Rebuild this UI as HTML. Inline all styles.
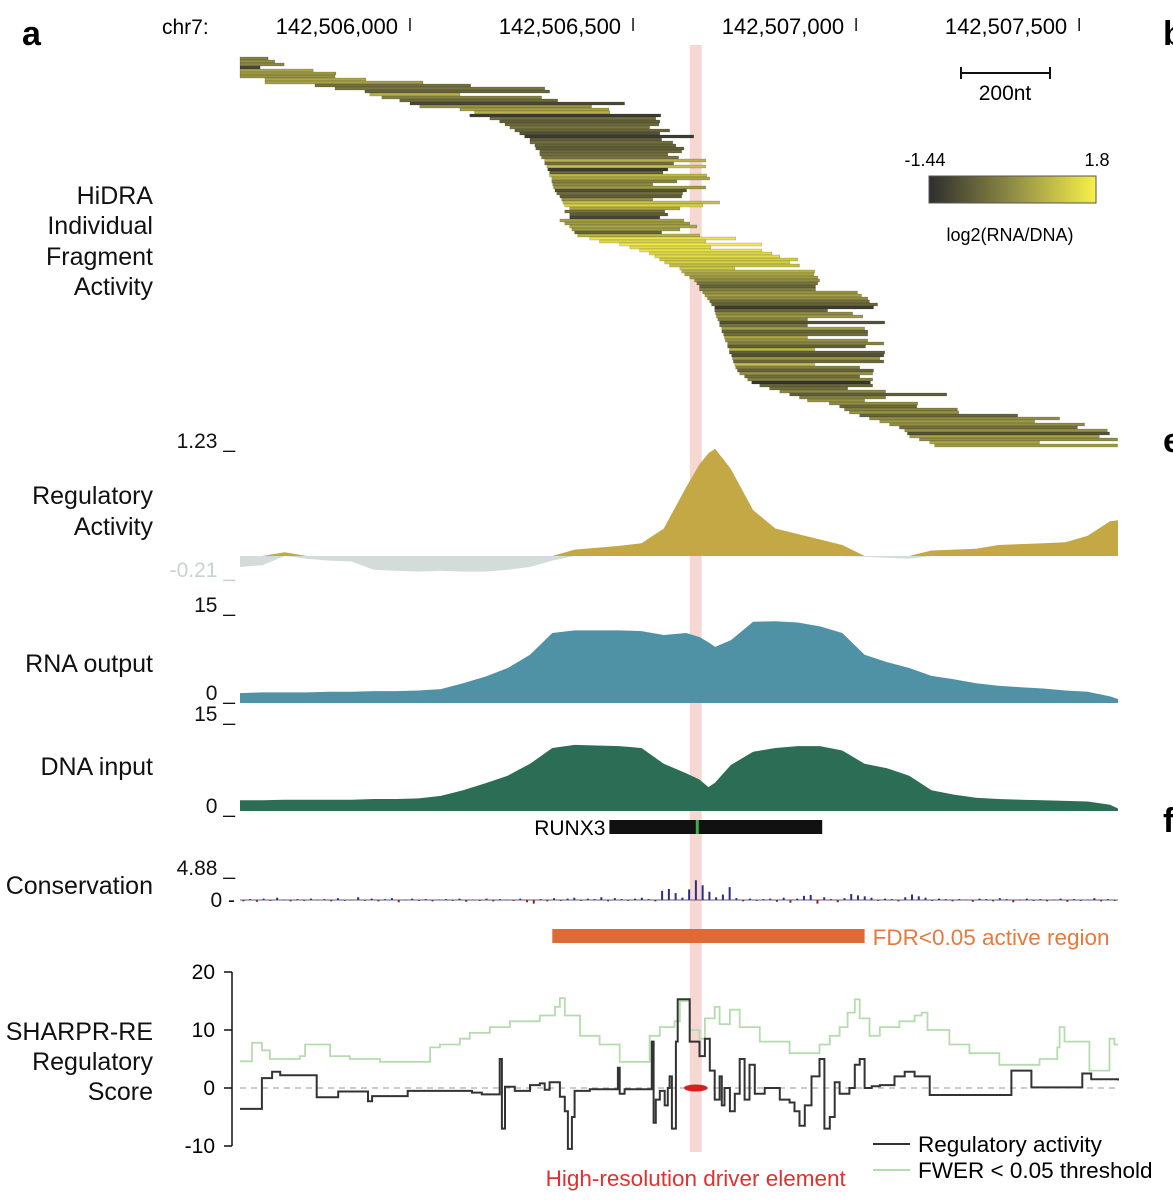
<!DOCTYPE html>
<html><head><meta charset="utf-8"><style>
html,body{margin:0;padding:0;background:#fff;}
svg{display:block;font-family:"Liberation Sans",sans-serif;}
</style></head><body>
<svg id="fig" width="1173" height="1200" viewBox="0 0 1173 1200" xmlns="http://www.w3.org/2000/svg">
<g id="static">
<text x="22" y="45" font-size="34" font-weight="bold">a</text>
<text x="1163" y="45" font-size="34" font-weight="bold">b</text>
<text x="1163" y="452" font-size="34" font-weight="bold">e</text>
<text x="1163" y="832" font-size="34" font-weight="bold">f</text>
<text x="162" y="34" font-size="21">chr7:</text>
<g font-size="25" text-anchor="end" fill="#111">
<text x="153" y="204">HiDRA</text>
<text x="153" y="234">Individual</text>
<text x="153" y="265">Fragment</text>
<text x="153" y="295">Activity</text>
<text x="153" y="504">Regulatory</text>
<text x="153" y="535">Activity</text>
<text x="153" y="672">RNA output</text>
<text x="153" y="775">DNA input</text>
<text x="153" y="894">Conservation</text>
<text x="153" y="1040">SHARPR-RE</text>
<text x="153" y="1070">Regulatory</text>
<text x="153" y="1100">Score</text>
</g>
<g font-size="21" fill="#111" text-anchor="end">
<text x="235" y="448">1.23 _</text>
<text x="235" y="577" fill="#c8d2ce">-0.21 _</text>
<text x="235" y="612">15 _</text>
<text x="235" y="700">0 _</text>
<text x="235" y="721">15 _</text>
<text x="235" y="813">0 _</text>
<text x="235" y="875">4.88 _</text>
<text x="235" y="907">0 -</text>
</g>
<g stroke="#111" stroke-width="2">
<line x1="961" y1="73" x2="1050" y2="73"/><line x1="961" y1="67" x2="961" y2="79"/><line x1="1050" y1="67" x2="1050" y2="79"/>
</g>
<text x="1005" y="100" font-size="21" text-anchor="middle">200nt</text>
<defs><linearGradient id="cg" x1="0" x2="1"><stop offset="0" stop-color="#2e2e2e"/><stop offset="0.5" stop-color="#8f8c45"/><stop offset="1" stop-color="#f7f04a"/></linearGradient></defs>
<rect x="929" y="176" width="167" height="27" fill="url(#cg)" stroke="#555"/>
<text x="925" y="166" font-size="18" text-anchor="middle">-1.44</text>
<text x="1097" y="166" font-size="18" text-anchor="middle">1.8</text>
<text x="1010" y="241" font-size="18" text-anchor="middle">log2(RNA/DNA)</text>
</g>
<g id="dyn"></g>
</svg>
<script>
const regionStart = 142505619;
const regionLen = 1968;
const tickPositions = [142506000, 142506500, 142507000, 142507500];
const tickLabels = ["142,506,000", "142,506,500", "142,507,000", "142,507,500"];
const fragStart = [0,0,0,0,0,0,0,56,56,168,213,280,291,318,358,381,403,493,526,515,560,582,594,605,616,627,638,650,650,661,663,672,672,676,683,683,688,690,694,694,699,699,701,703,706,710,717,721,724,728,739,728,739,739,717,728,739,744,750,757,784,806,851,874,896,918,930,941,952,963,986,990,997,1008,1019,1024,1030,1030,1037,1042,1048,1053,1057,1064,1064,1066,1068,1071,1075,1075,1080,1080,1084,1086,1088,1093,1093,1097,1097,1102,1104,1106,1109,1111,1115,1120,1131,1138,1147,1165,1187,1210,1232,1254,1272,1321,1344,1355,1366,1389,1411,1434,1456,1478,1490,1496,1501,1523,1546,1557];
const fragEnd = [63,78,99,45,164,215,213,282,410,517,683,694,493,676,712,862,788,827,829,943,932,941,939,918,963,941,1017,945,970,977,995,990,959,983,1044,972,1044,959,948,1046,1053,979,925,1044,1001,992,990,925,1075,1037,986,952,959,941,995,1008,1024,986,945,1030,1111,1044,1169,1055,1169,1192,1210,1250,1232,1254,1109,1288,1286,1295,1299,1295,1290,1290,1384,1393,1407,1411,1429,1420,1317,1373,1396,1272,1445,1272,1400,1407,1407,1272,1407,1443,1402,1288,1445,1443,1434,1443,1288,1389,1420,1418,1389,1418,1413,1418,1362,1447,1584,1447,1400,1519,1517,1608,1611,1743,1837,1781,1893,1877,1944,1949,1926,1967,1792,1967];
const fragActivity = [0.0,0.2,0.1,-1.0,0.6,0.4,0.3,0.6,0.5,-0.3,-0.2,-0.5,0.8,0.0,-0.4,-1.0,0.3,0.5,0.8,-1.2,-0.3,-0.6,-0.4,-0.2,-0.5,-0.8,-1.2,-0.6,-0.3,-0.5,-0.6,-0.4,-0.3,-0.2,0.8,-0.3,1.0,-1.2,-0.5,0.9,0.6,0.0,0.2,0.4,-0.8,-0.3,-0.6,0.3,1.0,1.3,0.6,-0.3,-0.6,-1.0,0.5,0.4,0.6,0.4,-0.5,0.8,1.6,1.4,1.7,1.5,1.6,1.4,1.5,1.2,1.3,1.0,1.2,0.8,0.6,0.4,0.2,-0.2,-0.5,0.0,0.3,0.5,0.2,-0.3,-0.5,-1.2,-0.4,0.2,0.4,0.0,-0.8,-0.2,0.5,-0.5,-0.3,0.6,0.3,0.0,-0.6,0.8,-0.6,-0.8,0.4,-0.4,1.0,0.0,-0.5,0.3,-0.3,0.0,-1.3,-0.5,-0.3,0.1,-0.6,0.0,0.3,0.2,-0.4,0.0,0.3,-0.5,0.2,0.4,0.2,-0.3,0.3,-0.8,0.5,0.2,0.6,0.4];
const trackPos = [0,50,100,150,200,250,300,350,400,450,500,550,600,650,700,750,800,850,900,950,1000,1030,1050,1065,1100,1150,1200,1250,1300,1350,1400,1450,1500,1550,1600,1650,1700,1750,1800,1850,1900,1950,1968];
const regActivity = [-0.12,-0.1,0.04,-0.03,-0.05,-0.06,-0.15,-0.16,-0.17,-0.16,-0.17,-0.17,-0.15,-0.12,-0.05,0.07,0.09,0.11,0.14,0.3,0.75,1.0,1.12,1.17,0.95,0.5,0.3,0.24,0.18,0.12,-0.01,-0.02,-0.03,0.06,0.07,0.08,0.12,0.13,0.14,0.15,0.22,0.38,0.39];
const rnaOutput = [1.5,1.6,1.6,1.6,1.7,1.7,1.8,1.8,1.9,2.1,3.0,4.0,5.3,7.3,10.6,11.0,11.0,11.0,10.9,10.3,10.6,10.0,9.2,8.5,9.5,12.3,12.4,12.2,11.6,10.6,7.3,6.2,5.3,4.1,3.6,3.0,2.6,2.4,2.2,1.9,1.7,1.0,0.6];
const dnaInput = [1.7,1.7,1.8,1.8,1.8,1.8,1.9,1.9,2.0,2.4,3.3,4.4,5.6,7.5,10.0,10.5,10.4,10.3,10.0,7.5,6.0,5.0,3.8,4.5,7.3,9.4,10.0,10.3,10.3,9.6,7.5,6.8,5.6,3.3,2.6,2.1,1.9,1.8,1.7,1.6,1.5,1.0,0.4];
const consValues = [-0.3,0.2,-0.4,0.3,-0.2,0.5,0.1,-0.3,0.2,-0.2,0.3,-0.1,0.2,-0.3,0.4,-0.2,0.1,0.6,-0.2,0.3,-0.3,0.2,0.4,-0.5,0.1,0.3,-0.2,0.2,-0.3,0.1,0.2,-0.2,0.3,-0.4,0.1,-0.2,0.3,-0.3,0.2,0.1,-0.2,0.3,-0.5,-0.8,0.2,-0.3,0.4,-0.2,0.3,0.5,-0.2,0.3,0.2,0.6,-0.3,0.4,0.2,-0.2,0.3,0.5,0.2,-0.3,2.0,2.4,1.5,0.5,2.3,4.3,3.2,1.8,0.6,1.2,2.8,0.4,-0.3,0.3,-0.2,0.2,0.3,-0.4,0.5,-0.6,0.3,0.9,1.1,-0.8,0.6,0.2,-0.5,0.4,1.3,1.0,0.8,0.5,-0.2,0.3,0.2,-0.3,0.6,1.2,0.8,0.5,-0.2,0.3,0.2,-0.3,0.2,0.1,-0.4,0.3,0.2,-0.3,0.4,0.2,-0.5,0.1,0.3,-0.2,0.2,-0.3,0.1,0.3,-0.4,0.2,-0.2,0.1,0.4,-0.3,0.2,-0.2];
const geneStart = 828, geneEnd = 1305, geneMark = 1025;
const fdrStart = 700, fdrEnd = 1400;
const driverStart = 995, driverEnd = 1048;
const sharprTicks = [20, 10, 0, -10];
const actPos = [0,49,72,90,172,220,287,296,376,520,542,582,587,594,616,650,672,683,694,717,728,735,744,750,784,829,847,851,862,918,923,927,932,941,952,959,963,968,977,981,1004,1008,1030,1042,1053,1064,1075,1080,1086,1098,1109,1120,1131,1142,1154,1176,1210,1232,1243,1254,1266,1281,1299,1310,1322,1333,1344,1366,1378,1389,1400,1416,1434,1467,1490,1512,1546,1729,1774,1888,1908,1968];
const actVal = [-3.6,1.7,2.8,2.2,-1.6,-0.6,-2.3,-1.4,-0.5,-0.8,-1.1,5.0,-7.0,0.2,-0.5,0.5,0.8,-0.3,1.0,-1.5,-4.0,-10.5,-5.0,-0.5,-0.2,-0.2,3.5,-1.0,-0.2,-0.2,8.0,-6.0,-2.0,-0.5,-3.0,0.0,2.0,-7.0,8.0,15.3,15.3,8.0,5.5,8.5,3.0,-2.0,2.0,-3.0,0.0,-4.0,-1.0,5.0,-2.0,4.0,-1.0,0.0,-2.0,-2.5,-4.0,-6.5,-3.0,2.0,5.0,-7.0,-5.0,1.0,-1.0,0.0,4.0,5.0,0.0,0.3,0.5,2.0,2.8,2.0,-1.2,3.0,0.1,2.5,1.5,1.3];
const thrPos = [0,27,49,67,112,134,146,202,246,314,426,448,493,515,560,605,672,706,717,728,762,806,851,907,918,941,974,986,1008,1030,1042,1064,1075,1098,1120,1165,1232,1277,1299,1322,1344,1362,1378,1389,1411,1434,1478,1512,1528,1541,1590,1635,1702,1792,1832,1837,1848,1904,1944,1949,1960,1968];
const thrVal = [4.6,7.8,6.5,5.0,5.0,5.5,7.5,5.5,5.0,4.5,7.0,7.5,8.5,9.5,10.5,11.5,12.5,14.0,15.5,12.5,9.0,7.5,4.5,4.5,9.0,10.5,11.5,15.0,10.0,8.5,12.0,14.0,11.0,13.5,10.5,8.0,6.0,6.0,7.5,9.0,10.5,13.0,15.3,12.0,9.0,10.5,11.5,12.5,13.0,10.0,7.5,6.0,4.0,5.0,7.0,10.5,8.0,3.0,3.0,8.5,7.5,7.5];

const NS = "http://www.w3.org/2000/svg";
const root = document.getElementById('dyn');
const X0 = 240, X1 = 1118;
const gx = nt => X0 + nt * (X1 - X0) / regionLen;
const gAbs = p => gx(p - regionStart);
function mk(tag, attrs, parent) { const e = document.createElementNS(NS, tag); for (const k in attrs) e.setAttribute(k, attrs[k]); (parent || root).appendChild(e); return e; }
function lerp(a, b, t) { return a + (b - a) * t; }
function hex(c) { return [parseInt(c.slice(1,3),16), parseInt(c.slice(3,5),16), parseInt(c.slice(5,7),16)]; }
const cLo = hex('#2e2e2e'), cMid = hex('#8f8c45'), cHi = hex('#f7f04a');
function colorFor(v) {
  const t = Math.max(0, Math.min(1, (v + 1.44) / 3.24));
  let a, b, u; if (t < 0.5) { a = cLo; b = cMid; u = t / 0.5; } else { a = cMid; b = cHi; u = (t - 0.5) / 0.5; }
  return 'rgb(' + [0,1,2].map(i => Math.round(lerp(a[i], b[i], u))).join(',') + ')';
}

const band = mk('rect', {x: (gx(driverStart) + gx(driverEnd)) / 2 - 6, y: 45, width: 12, height: 1107, fill: '#f4c9c3', opacity: 0.75});



tickPositions.forEach((p, i) => {
  const x = gAbs(p);
  const t = mk('text', {x: x - 12, y: 34, 'font-size': 22, 'text-anchor': 'end'}); t.textContent = tickLabels[i];
  
  
  const l = mk('line', {x1: x, x2: x, y1: 18, y2: 31, stroke: '#111', 'stroke-width': 1.5});
  
  
});

const fTop = 57, fBot = 447, rowH = (fBot - fTop) / fragStart.length;
const fg = mk('g', {});


fragStart.forEach((s, i) => {
  const r = mk('rect', {x: gx(s), y: fTop + i * rowH, width: gx(fragEnd[i]) - gx(s), height: rowH, fill: colorFor(fragActivity[i]), stroke: 'rgba(30,30,20,0.35)', 'stroke-width': 0.5}, fg);
  
  
});

function areaPath(vals, base, scale, fn) {
  let d = 'M' + gx(trackPos[0]) + ',' + base;
  trackPos.forEach((p, i) => { d += ' L' + gx(p).toFixed(1) + ',' + (base - fn(vals[i]) * scale).toFixed(1); });
  d += ' L' + gx(trackPos[trackPos.length - 1]) + ',' + base + ' Z';
  return d;
}
const regBase = 556, regScale = 91.7;
const rp = mk('path', {d: areaPath(regActivity, regBase, regScale, v => Math.max(v, 0)), fill: '#c4a845'});


const rn = mk('path', {d: areaPath(regActivity, regBase, regScale, v => Math.min(v, 0)), fill: '#d3dcd8'});


const ra = mk('path', {d: areaPath(rnaOutput, 703, 6.6, v => v), fill: '#4f92a6'});


const da = mk('path', {d: areaPath(dnaInput, 811, 6.3, v => v), fill: '#2b6e55'});



const gn = mk('rect', {x: gx(geneStart), y: 820, width: gx(geneEnd) - gx(geneStart), height: 14, fill: '#111'});


const gm = mk('rect', {x: gx(geneMark) - 1.5, y: 820, width: 3, height: 14, fill: '#3cb043'});


const gt = mk('text', {x: gx(geneStart) - 4, y: 835, 'font-size': 21, 'text-anchor': 'end'}); gt.textContent = 'RUNX3';



const cBase = 900, cScale = 4.6, cStep = regionLen / consValues.length;
const cg = mk('g', {});


mk('line', {x1: X0, x2: X1, y1: cBase, y2: cBase, stroke: '#6a5a8a', 'stroke-width': 1}, cg);
consValues.forEach((v, i) => {
  const x = gx(i * cStep + cStep / 2);
  const h = Math.abs(v) * cScale;
  const r = mk('rect', {x: x - 1, y: v >= 0 ? cBase - h : cBase, width: 2, height: Math.max(h, 0.5), fill: v >= 0 ? '#2b2f86' : '#8b2a1e'}, cg);
  
  
});

const fb = mk('rect', {x: gx(fdrStart), y: 929, width: gx(fdrEnd) - gx(fdrStart), height: 14, fill: '#e06a35'});


const ft = mk('text', {x: gx(fdrEnd) + 8, y: 945, 'font-size': 22.5, fill: '#e57a3c'}); ft.textContent = 'FDR<0.05 active region';



const sy = v => 1088 - v * 5.8;
const ax = mk('line', {x1: 232, x2: 232, y1: sy(20), y2: sy(-10), stroke: '#111', 'stroke-width': 1.5});


sharprTicks.forEach(v => {
  const l = mk('line', {x1: 224, x2: 232, y1: sy(v), y2: sy(v), stroke: '#111', 'stroke-width': 1.5});
  
  
  const t = mk('text', {x: 215, y: sy(v) + 7, 'font-size': 21, 'text-anchor': 'end'}); t.textContent = String(v);
  
  
});
const zl = mk('line', {x1: X0, x2: X1, y1: sy(0), y2: sy(0), stroke: '#999', 'stroke-dasharray': '6,5', 'stroke-width': 1});


function stepPath(pos, val) {
  let d = 'M' + gx(pos[0]).toFixed(1) + ',' + sy(val[0]).toFixed(1);
  for (let i = 1; i < pos.length; i++) { d += ' H' + gx(pos[i]).toFixed(1) + ' V' + sy(val[i]).toFixed(1); }
  return d;
}
const tl = mk('path', {d: stepPath(thrPos, thrVal), fill: 'none', stroke: '#b5dcae', 'stroke-width': 1.8});


const al = mk('path', {d: stepPath(actPos, actVal), fill: 'none', stroke: '#333', 'stroke-width': 2});


const de = mk('ellipse', {cx: (gx(driverStart) + gx(driverEnd)) / 2, cy: sy(0), rx: (gx(driverEnd) - gx(driverStart)) / 2, ry: 3.5, fill: '#d62020'});


const dt = mk('text', {x: (gx(driverStart) + gx(driverEnd)) / 2, y: 1186, 'font-size': 22.5, fill: '#e03030', 'text-anchor': 'middle'}); dt.textContent = 'High-resolution driver element';



const l1 = mk('line', {x1: 873, x2: 910, y1: 1144, y2: 1144, stroke: '#333', 'stroke-width': 2});


const lt1 = mk('text', {x: 918, y: 1152, 'font-size': 22.5}); lt1.textContent = 'Regulatory activity';


const l2 = mk('line', {x1: 873, x2: 910, y1: 1170, y2: 1170, stroke: '#b5dcae', 'stroke-width': 2});


const lt2 = mk('text', {x: 918, y: 1178, 'font-size': 22.5}); lt2.textContent = 'FWER < 0.05 threshold';


</script>
</body></html>
